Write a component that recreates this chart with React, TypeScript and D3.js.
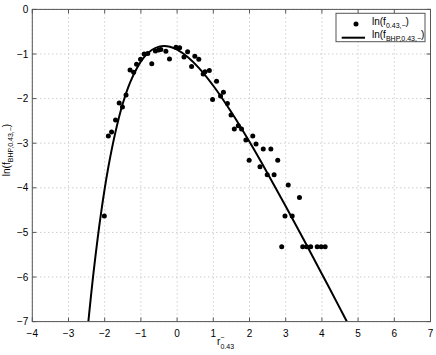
import React from 'react';
import * as d3 from 'd3';

const xTicks = [-4, -3, -2, -1, 0, 1, 2, 3, 4, 5, 6, 7];
const yTicks = [0, -1, -2, -3, -4, -5, -6, -7];

const pointX = [-2.01, -1.9, -1.81, -1.7, -1.6, -1.51, -1.41, -1.3, -1.2, -1.12, -1.01, -0.91, -0.81, -0.7, -0.6, -0.51, -0.45, -0.31, -0.21, -0.03, 0.07, 0.19, 0.29, 0.4, 0.49, 0.6, 0.72, 0.77, 0.89, 0.98, 1.09, 1.2, 1.28, 1.39, 1.49, 1.58, 1.69, 1.78, 1.9, 1.99, 2.09, 2.18, 2.29, 2.38, 2.49, 2.59, 2.68, 2.78, 2.89, 2.98, 3.07, 3.18, 3.38, 3.47, 3.58, 3.69, 3.87, 3.98, 4.09];
const pointY = [-4.63, -2.84, -2.75, -2.48, -2.1, -2.19, -1.92, -1.36, -1.41, -1.23, -1.12, -1.0, -0.99, -1.22, -0.93, -0.91, -0.9, -0.94, -1.11, -0.85, -0.86, -1.07, -0.95, -1.28, -1.05, -1.12, -1.45, -1.4, -1.37, -2.02, -1.61, -1.94, -1.86, -2.11, -2.37, -2.68, -2.61, -2.68, -2.93, -3.38, -2.84, -3.02, -3.53, -3.13, -3.71, -3.13, -3.71, -3.38, -5.32, -4.63, -3.94, -4.63, -4.22, -5.32, -5.32, -5.32, -5.32, -5.32, -5.32];

const curveX = [-2.45, -2.3, -2.1, -1.9, -1.7, -1.5, -1.3, -1.1, -0.9, -0.7, -0.5, -0.36, -0.2, 0, 0.3, 0.6, 1.0, 1.5, 2.0, 2.5, 3.0, 3.5, 4.0, 4.5, 4.7];
const curveY = [-6.99, -5.84, -4.56, -3.54, -2.74, -2.11, -1.64, -1.3, -1.06, -0.91, -0.834, -0.82, -0.837, -0.9, -1.071, -1.311, -1.712, -2.307, -2.97, -3.677, -4.412, -5.166, -5.931, -6.704, -7.015];

const fmt = (v: number) => (v < 0 ? '\u2212' + Math.abs(v) : String(v));

export default function App() {
  const W = 436, H = 355;
  const L = 32.3, R = 430.5, T = 9.4, B = 321.6;
  const x = d3.scaleLinear().domain([-4, 7]).range([L, R]);
  const y = d3.scaleLinear().domain([0, -7]).range([T, B]);
  const line = d3.line<number>()
    .x((_, i) => x(curveX[i]))
    .y((_, i) => y(curveY[i]))
    .curve(d3.curveCatmullRom.alpha(0.5));
  const axisColor = '#555';
  const font = 'Liberation Sans, Arial, Helvetica, sans-serif';
  return (
    <svg width={W} height={H} style={{ position: 'absolute', left: 0, top: 0, background: '#fff' }} fontFamily={font}>
      <defs>
        <clipPath id="plotclip">
          <rect x={L} y={T} width={R - L} height={B - T} />
        </clipPath>
      </defs>
      <rect x={L} y={T} width={R - L} height={B - T} fill="#fff" />
      {xTicks.map(t => (
        <line key={'gx' + t} x1={x(t)} x2={x(t)} y1={T} y2={B} stroke="#b8b8b8" strokeWidth={1} strokeDasharray="1,3" />
      ))}
      {yTicks.map(t => (
        <line key={'gy' + t} x1={L} x2={R} y1={y(t)} y2={y(t)} stroke="#b8b8b8" strokeWidth={1} strokeDasharray="1,3" />
      ))}
      {xTicks.map(t => (
        <g key={'tx' + t}>
          <line x1={x(t)} x2={x(t)} y1={B} y2={B - 4} stroke={axisColor} />
          <line x1={x(t)} x2={x(t)} y1={T} y2={T + 4} stroke={axisColor} />
          <text x={x(t)} y={B + 15} fontSize={10} textAnchor="middle" fill="#000">{fmt(t)}</text>
        </g>
      ))}
      {yTicks.map(t => (
        <g key={'ty' + t}>
          <line x1={L} x2={L + 4} y1={y(t)} y2={y(t)} stroke={axisColor} />
          <line x1={R} x2={R - 4} y1={y(t)} y2={y(t)} stroke={axisColor} />
          <text x={L - 4} y={y(t) + 3.5} fontSize={10} textAnchor="end" fill="#000">{fmt(t)}</text>
        </g>
      ))}
      <g clipPath="url(#plotclip)">
        {pointX.map((px, i) => (
          <circle key={'p' + i} cx={x(px)} cy={y(pointY[i])} r={2.5} fill="#000" />
        ))}
        <path d={line(curveX) || ''} fill="none" stroke="#000" strokeWidth={2} />
      </g>
      <rect x={L} y={T} width={R - L} height={B - T} fill="none" stroke={axisColor} strokeWidth={1} />
      <rect x={336} y={13.3} width={89} height={28.4} fill="#fff" stroke={axisColor} strokeWidth={1} />
      <circle cx={356} cy={24} r={2.5} fill="#000" />
      <text x={372} y={25} fontSize={10} fill="#000">
        ln(f<tspan fontSize={7} dy={3}>0.43,−</tspan><tspan dy={-3}>)</tspan>
      </text>
      <line x1={341.7} x2={365} y1={37.7} y2={37.7} stroke="#000" strokeWidth={2} />
      <text x={372} y={38} fontSize={10} fill="#000">
        ln(f<tspan fontSize={7} dy={3}>BHP,0.43,−</tspan><tspan dy={-3}>)</tspan>
      </text>
      <text x={217} y={345} fontSize={10} fill="#000">
        r<tspan fontSize={7} dy={-5}>−</tspan><tspan fontSize={7} dx={-4} dy={9}>0.43</tspan>
      </text>
      <text transform="translate(10,150) rotate(-90)" fontSize={10} textAnchor="middle" fill="#000">
        ln(f<tspan fontSize={7} dy={3}>BHP,0.43,−</tspan><tspan dy={-3}>)</tspan>
      </text>
    </svg>
  );
}
